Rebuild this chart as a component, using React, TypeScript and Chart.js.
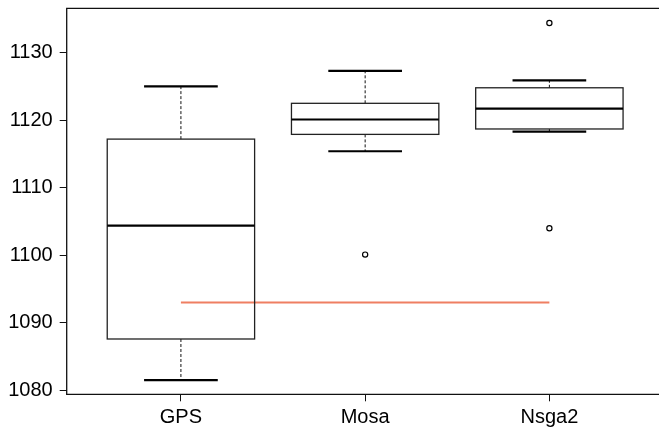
import React, { useEffect, useRef } from "react";
import { Chart, registerables } from "chart.js";

Chart.register(...registerables);

const categories = ["GPS", "Mosa", "Nsga2"];
const whiskerLow = [1081.5, 1115.4, 1118.3];
const q1 = [1087.6, 1117.9, 1118.7];
const median = [1104.4, 1120.1, 1121.7];
const q3 = [1117.2, 1122.5, 1124.8];
const whiskerHigh = [1125.0, 1127.3, 1125.9];
const outlierGroup = [2, 3, 3];
const outlierValue = [1100.1, 1134.4, 1104.0];
const refLineX = [1, 3];
const refLineY = [1093, 1093];
const yTicks = [1080, 1090, 1100, 1110, 1120, 1130];

const FONT = { family: "'Liberation Sans', Arial, sans-serif", size: 20 };

const boxPlugin = {
  id: "boxplotDraw",
  afterDatasetsDraw(chart: any) {
    const { ctx, chartArea } = chart;
    const x = chart.scales.x;
    const y = chart.scales.y;
    const py = (v: number) => y.getPixelForValue(v);
    ctx.save();
    categories.forEach((_, i) => {
      const c = x.getPixelForValue(i + 1);
      const hw = x.getPixelForValue(i + 1 + 0.4) - c;
      const cw = x.getPixelForValue(i + 1 + 0.2) - c;
      // whiskers
      ctx.strokeStyle = "#111";
      ctx.lineWidth = 1;
      ctx.setLineDash([3, 2]);
      ctx.beginPath();
      ctx.moveTo(c, py(q3[i]));
      ctx.lineTo(c, py(whiskerHigh[i]));
      ctx.moveTo(c, py(q1[i]));
      ctx.lineTo(c, py(whiskerLow[i]));
      ctx.stroke();
      ctx.setLineDash([]);
      // caps
      ctx.lineWidth = 2.2;
      ctx.strokeStyle = "#000";
      ctx.beginPath();
      ctx.moveTo(c - cw, py(whiskerHigh[i]));
      ctx.lineTo(c + cw, py(whiskerHigh[i]));
      ctx.moveTo(c - cw, py(whiskerLow[i]));
      ctx.lineTo(c + cw, py(whiskerLow[i]));
      ctx.stroke();
      // box
      ctx.lineWidth = 1.3;
      ctx.strokeStyle = "#222";
      ctx.strokeRect(c - hw, py(q3[i]), 2 * hw, py(q1[i]) - py(q3[i]));
      // median
      ctx.lineWidth = 2.2;
      ctx.strokeStyle = "#000";
      ctx.beginPath();
      ctx.moveTo(c - hw, py(median[i]));
      ctx.lineTo(c + hw, py(median[i]));
      ctx.stroke();
    });
    // frame: left, top, bottom (right side lies beyond the visible area)
    ctx.lineWidth = 1.3;
    ctx.strokeStyle = "#111";
    ctx.beginPath();
    ctx.moveTo(chart.width, chartArea.top);
    ctx.lineTo(chartArea.left, chartArea.top);
    ctx.lineTo(chartArea.left, chartArea.bottom);
    ctx.lineTo(chart.width, chartArea.bottom);
    ctx.stroke();
    ctx.restore();
  },
};

export default function App() {
  const ref = useRef<HTMLCanvasElement | null>(null);
  useEffect(() => {
    if (!ref.current) return;
    const chart = new Chart(ref.current, {
      type: "scatter",
      data: {
        datasets: [
          {
            type: "line",
            data: refLineX.map((v, i) => ({ x: v, y: refLineY[i] })),
            borderColor: "#EF7F62",
            borderWidth: 2,
            pointRadius: 0,
            fill: false,
          } as any,
          {
            type: "scatter",
            data: outlierGroup.map((g, i) => ({ x: g, y: outlierValue[i] })),
            pointRadius: 2.6,
            borderWidth: 1.2,
            borderColor: "#000",
            backgroundColor: "#fff",
          },
        ],
      },
      options: {
        responsive: false,
        animation: false,
        layout: { padding: { top: 8.3, right: 16.4, left: 0, bottom: 0 } },
        plugins: { legend: { display: false }, tooltip: { enabled: false } },
        scales: {
          x: {
            type: "linear",
            min: 0.38,
            max: 3.62,
            offset: false,
            afterBuildTicks: (s: any) => {
              s.ticks = categories.map((_, i) => ({ value: i + 1 }));
            },
            afterFit: (s: any) => {
              s.height = 36.7;
              s.paddingLeft = 0;
              s.paddingRight = 0;
            },
            ticks: {
              callback: (v: any) => categories[Math.round(Number(v)) - 1],
              font: FONT,
              color: "#000",
              padding: 4,
              autoSkip: false,
              maxRotation: 0,
            },
            grid: {
              drawOnChartArea: false,
              tickLength: 7,
              tickColor: "#111",
              tickWidth: 1,
            },
            border: { display: false },
          },
          y: {
            type: "linear",
            min: 1079.41,
            max: 1136.57,
            afterBuildTicks: (s: any) => {
              s.ticks = yTicks.map((v) => ({ value: v }));
            },
            afterFit: (s: any) => {
              s.width = 66.7;
              s.paddingTop = 0;
              s.paddingBottom = 0;
            },
            ticks: {
              callback: (v: any) => String(v),
              font: FONT,
              color: "#000",
              padding: 7,
            },
            grid: {
              drawOnChartArea: false,
              tickLength: 7,
              tickColor: "#111",
              tickWidth: 1,
            },
            border: { display: false },
          },
        },
      },
      plugins: [boxPlugin],
    });
    return () => chart.destroy();
  }, []);
  return (
    <div
      style={{
        position: "absolute",
        left: 0,
        top: 0,
        width: 659,
        height: 431,
        overflow: "hidden",
        background: "#fff",
      }}
    >
      <canvas ref={ref} width={680} height={431} style={{ width: 680, height: 431 }} />
    </div>
  );
}
